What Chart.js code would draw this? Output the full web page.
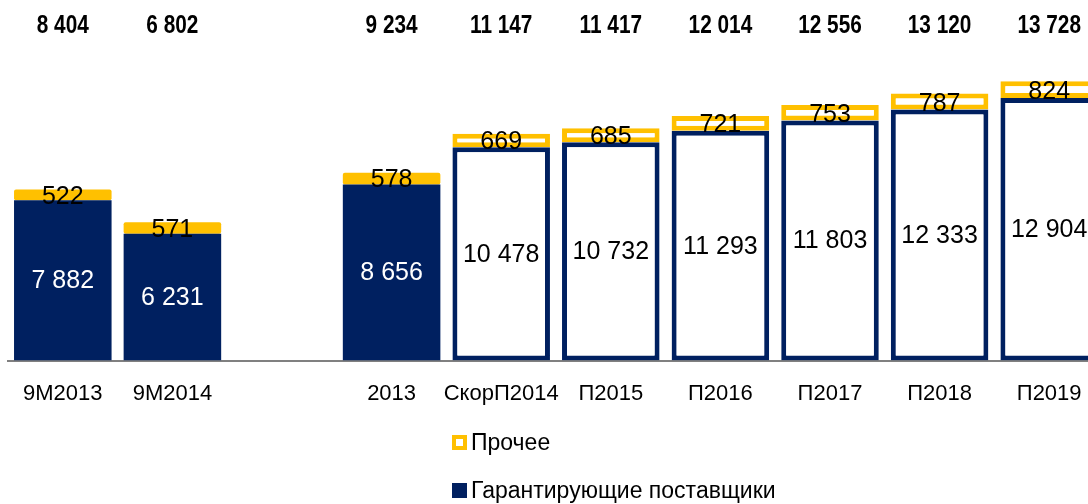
<!DOCTYPE html>
<html>
<head>
<meta charset="utf-8">
<script src="https://cdn.jsdelivr.net/npm/chart.js@4/dist/chart.umd.min.js"></script>
<style>
  html, body { margin: 0; padding: 0; background: #fff; overflow: hidden; width: 1088px; height: 504px; }
  #wrap { position: absolute; left: 0; top: 0; width: 1104px; height: 504px; }
  .legend { position: absolute; left: 452px; font-family: "Liberation Sans", Arial, sans-serif; font-size: 23px; color: #000; display: flex; align-items: center; }
  .legend .box { width: 15px; height: 15px; margin-right: 4px; box-sizing: border-box; }
</style>
</head>
<body>
<div id="wrap">
  <canvas id="chart" width="1104" height="504"></canvas>
</div>
<div class="legend" style="top: 429px;"><span class="box" style="border: 4px solid #FFC000; background: #fff;"></span>Прочее</div>
<div class="legend" style="top: 477px;"><span class="box" style="background: #002060;"></span>Гарантирующие поставщики</div>
<script>
const categories = ['9M2013', '9M2014', '', '2013', 'СкорП2014', 'П2015', 'П2016', 'П2017', 'П2018', 'П2019'];
const suppliers = [7882, 6231, null, 8656, 10478, 10732, 11293, 11803, 12333, 12904];
const other = [522, 571, null, 578, 669, 685, 721, 753, 787, 824];
const isForecast = [false, false, false, false, true, true, true, true, true, true];

const NAVY = '#002060';
const YELLOW = '#FFC000';

const totals = suppliers.map((v, i) => v === null ? null : v + other[i]);

function fmt(n) {
    return String(n).replace(/\B(?=(\d{3})+(?!\d))/g, ' ');
}

const labelsPlugin = {
    id: 'barLabels',
    afterDatasetsDraw(chart) {
        const ctx = chart.ctx;
        ctx.save();
        ctx.textAlign = 'center';
        ctx.textBaseline = 'middle';

        const metaS = chart.getDatasetMeta(0);
        const metaO = chart.getDatasetMeta(1);

        ctx.font = '25px "Liberation Sans", Arial, sans-serif';
        metaS.data.forEach((bar, i) => {
            if (suppliers[i] === null) return;
            ctx.fillStyle = isForecast[i] ? '#000' : '#fff';
            ctx.fillText(fmt(suppliers[i]), bar.x, (bar.y + bar.base) / 2 + 1);
        });
        metaO.data.forEach((bar, i) => {
            if (other[i] === null) return;
            ctx.fillStyle = '#000';
            ctx.fillText(other[i], bar.x, (bar.y + bar.base) / 2 + 2);
        });

        // totals row at the top, squeezed to look like a narrow bold face
        ctx.font = 'bold 26px "Liberation Sans", Arial, sans-serif';
        ctx.fillStyle = '#000';
        metaS.data.forEach((bar, i) => {
            if (totals[i] === null) return;
            ctx.save();
            ctx.translate(bar.x, 26);
            ctx.scale(0.8, 1);
            ctx.fillText(fmt(totals[i]), 0, 0);
            ctx.restore();
        });
        ctx.restore();
    }
};

new Chart(document.getElementById('chart'), {
    type: 'bar',
    data: {
        labels: categories,
        datasets: [
            {
                label: 'Гарантирующие поставщики',
                data: suppliers,
                backgroundColor: isForecast.map(f => f ? '#fff' : NAVY),
                borderColor: NAVY,
                borderWidth: isForecast.map(f => f ? 5 : 0),
                borderSkipped: false,
                barPercentage: 0.89,
                categoryPercentage: 1
            },
            {
                label: 'Прочее',
                data: other,
                backgroundColor: isForecast.map(f => f ? '#fff' : YELLOW),
                borderColor: YELLOW,
                borderWidth: isForecast.map(f => f ? 5 : 0),
                borderSkipped: false,
                borderRadius: isForecast.map(f => f ? 0 : 2),
                barPercentage: 0.89,
                categoryPercentage: 1
            }
        ]
    },
    options: {
        responsive: false,
        animation: false,
        layout: { padding: { left: 8, right: 0, top: 35, bottom: 77 } },
        plugins: {
            legend: { display: false },
            tooltip: { enabled: false }
        },
        scales: {
            x: {
                stacked: true,
                grid: { display: false, drawTicks: false },
                border: { display: true, color: '#808080', width: 2 },
                ticks: {
                    padding: 20,
                    color: '#000',
                    maxRotation: 0,
                    minRotation: 0,
                    autoSkip: false,
                    font: { family: '"Liberation Sans", Arial, sans-serif', size: 22 }
                }
            },
            y: {
                stacked: true,
                display: false,
                min: 0,
                max: 16000
            }
        }
    },
    plugins: [labelsPlugin]
});
</script>
</body>
</html>
